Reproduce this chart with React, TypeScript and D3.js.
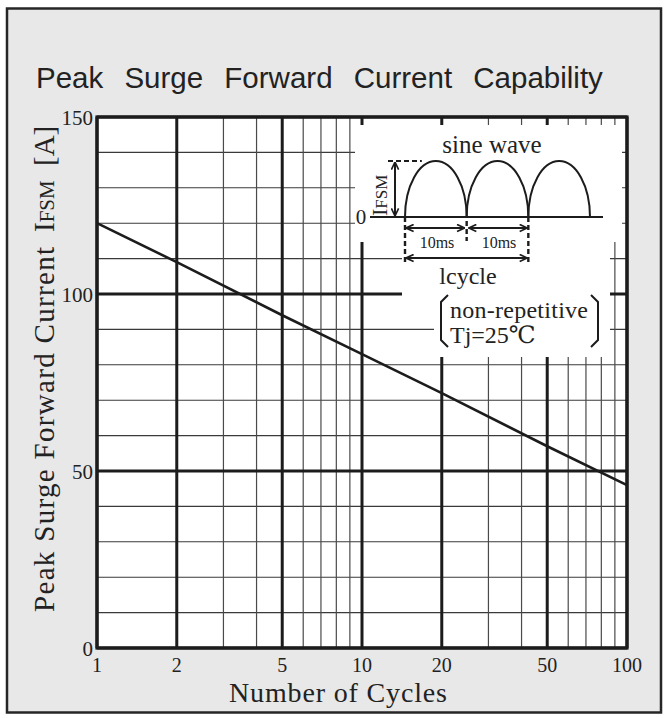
import React from "react";
import * as d3 from "d3";

// ---- data ----
const cycles = [1, 2, 5, 10, 20, 50, 100];
const surgeCurrent = [120, 109, 94, 83, 72, 57, 46];
const xMajorTicks = [1, 2, 5, 10, 20, 50, 100];
const xMinorTicks = [3, 4, 6, 7, 8, 9, 30, 40, 60, 70, 80, 90];
const xTickLabels = ["1", "2", "5", "10", "20", "50", "100"];
const yMajorTicks = [0, 50, 100, 150];
const yMinorTicks = [10, 20, 30, 40, 60, 70, 80, 90, 110, 120, 130, 140];
const yTickLabels = ["0", "50", "100", "150"];
const title = "Peak Surge Forward Current Capability";
const xTitle = "Number of Cycles";
const yTitleMain = "Peak Surge Forward Current";
const halfCycles = [0, 1, 2];

const W = 668;
const H = 718;
const SERIF = "'Liberation Serif', 'DejaVu Serif', 'Noto Sans CJK JP', serif";
const SANS = "'Liberation Sans', Arial, sans-serif";
const INK = "#1c1c1c";

export default function App() {
  const x = d3.scaleLog().domain([1, 100]).range([97, 627]);
  const y = d3.scaleLinear().domain([0, 150]).range([648, 117]);
  const line = d3
    .line<number>()
    .x((_, i) => x(cycles[i]))
    .y((d) => y(d));

  // inset schematic scales (time in ms, normalised amplitude)
  const t = d3.scaleLinear().domain([0, 30]).range([405, 590]);
  const a = d3.scaleLinear().domain([0, 1]).range([217, 161]);
  const halfW = (t(10) - t(0)) / 2;
  const amp = a(0) - a(1);

  const insetPoly = [
    [355, 125], [622, 125], [622, 242], [610, 242], [610, 357],
    [434, 357], [434, 312], [402, 312], [402, 242], [355, 242],
  ];

  return (
    <svg
      width={W}
      height={H}
      style={{ position: "absolute", left: 0, top: 0 }}
      xmlns="http://www.w3.org/2000/svg"
    >
      <defs>
        <marker id="ah" viewBox="0 0 10 10" refX="9.5" refY="5" markerWidth="9" markerHeight="9" orient="auto-start-reverse" markerUnits="userSpaceOnUse">
          <path d="M1,1 L9.5,5 L1,9" fill="none" stroke={INK} strokeWidth={1.8} />
        </marker>
      </defs>
      <rect x={0} y={0} width={W} height={H} fill="#fff" />
      <rect x={7} y={8.5} width={654} height={704} fill="#e8e8e8" stroke="#262626" strokeWidth={2.5} />

      <text x={36} y={88} fontFamily={SANS} fontSize={29.5} wordSpacing={13} fill="#222">
        {title}
      </text>

      {/* plot area */}
      <rect x={x(1)} y={y(150)} width={x(100) - x(1)} height={y(0) - y(150)} fill="#fff" />

      {yMinorTicks.map((v) => (
        <line key={"hy" + v} x1={x(1)} x2={x(100)} y1={y(v)} y2={y(v)} stroke="#3a3a3a" strokeWidth={1.1} />
      ))}
      {xMinorTicks.map((v) => (
        <line key={"vx" + v} x1={x(v)} x2={x(v)} y1={y(0)} y2={y(150)} stroke="#4a4a4a" strokeWidth={1.2} />
      ))}
      {xMajorTicks.map((v) => (
        <line key={"Vx" + v} x1={x(v)} x2={x(v)} y1={y(0)} y2={y(150)} stroke={INK} strokeWidth={3} />
      ))}
      {yMajorTicks.map((v) => (
        <line key={"Hy" + v} x1={x(1)} x2={x(100)} y1={y(v)} y2={y(v)} stroke={INK} strokeWidth={3} />
      ))}

      {/* white inset region */}
      <polygon points={insetPoly.map((p) => p.join(",")).join(" ")} fill="#fff" />

      <path d={line(surgeCurrent) || ""} fill="none" stroke={INK} strokeWidth={2.6} />

      <rect x={x(1)} y={y(150)} width={x(100) - x(1)} height={y(0) - y(150)} fill="none" stroke={INK} strokeWidth={3.2} />

      {/* tick labels */}
      {yMajorTicks.map((v, i) => (
        <text key={"yl" + v} x={93} y={y(v) + 8} textAnchor="end" fontFamily={SERIF} fontSize={21} fill="#222">
          {yTickLabels[i]}
        </text>
      ))}
      {xMajorTicks.map((v, i) => (
        <text key={"xl" + v} x={x(v)} y={672} textAnchor="middle" fontFamily={SERIF} fontSize={20} fill="#222">
          {xTickLabels[i]}
        </text>
      ))}

      {/* axis titles */}
      <text x={338} y={702} textAnchor="middle" fontFamily={SERIF} fontSize={28} fill="#222" textLength={218} lengthAdjust="spacing">
        {xTitle}
      </text>
      <g transform="translate(54,0) rotate(-90)" fontFamily={SERIF} fill="#222">
        <text x={-612} y={0} fontSize={29} textLength={365} lengthAdjust="spacing">
          {yTitleMain}
        </text>
        <text x={-232} y={0} fontSize={29}>
          I<tspan fontSize={21}>FSM</tspan>
        </text>
        <text x={-166} y={0} fontSize={29}>
          [A]
        </text>
      </g>

      {/* inset: sine wave schematic */}
      <text x={492} y={153} textAnchor="middle" fontFamily={SERIF} fontSize={25} fill="#222">
        sine wave
      </text>
      {halfCycles.map((k) => (
        <path
          key={"arch" + k}
          d={`M${t(k * 10)},${a(0)} A${halfW},${amp} 0 0 1 ${t(k * 10 + 10)},${a(0)}`}
          fill="none"
          stroke={INK}
          strokeWidth={2}
        />
      ))}
      <line x1={370} x2={603} y1={a(0)} y2={a(0)} stroke={INK} strokeWidth={2} />
      <line x1={388} x2={t(0) + halfW - 14} y1={a(1)} y2={a(1)} stroke={INK} strokeWidth={2.2} strokeDasharray="5,3" />
      <line x1={395} x2={395} y1={a(1) + 1} y2={a(0) - 1} stroke={INK} strokeWidth={2} markerStart="url(#ah)" markerEnd="url(#ah)" />
      <text x={361} y={224} textAnchor="middle" fontFamily={SERIF} fontSize={21} fill="#222">0</text>
      <g transform="translate(387,216) rotate(-90)" fontFamily={SERIF} fill="#222">
        <text x={0} y={0} fontSize={22}>
          I<tspan fontSize={17}>FSM</tspan>
        </text>
      </g>

      <line x1={t(0)} x2={t(0)} y1={a(0)} y2={262} stroke={INK} strokeWidth={2.4} strokeDasharray="5,3" />
      <line x1={t(10)} x2={t(10)} y1={a(0) + 4} y2={241} stroke={INK} strokeWidth={2.4} strokeDasharray="5,3" />
      <line x1={t(20)} x2={t(20)} y1={a(0)} y2={262} stroke={INK} strokeWidth={2.4} strokeDasharray="5,3" />

      <line x1={t(0) + 1} x2={t(10) - 2} y1={228} y2={228} stroke={INK} strokeWidth={2} markerStart="url(#ah)" markerEnd="url(#ah)" />
      <line x1={t(10) + 2} x2={t(20) - 1} y1={228} y2={228} stroke={INK} strokeWidth={2} markerStart="url(#ah)" markerEnd="url(#ah)" />
      <text x={437} y={248} textAnchor="middle" fontFamily={SERIF} fontSize={16} fill="#222">10ms</text>
      <text x={499} y={248} textAnchor="middle" fontFamily={SERIF} fontSize={16} fill="#222">10ms</text>

      <line x1={t(0) + 1} x2={t(20) - 1} y1={258} y2={258} stroke={INK} strokeWidth={2} markerStart="url(#ah)" markerEnd="url(#ah)" />
      <text x={468} y={284} textAnchor="middle" fontFamily={SERIF} fontSize={24} fill="#222">lcycle</text>

      <path d="M448,295 L441,302 L441,340 L448,347" fill="none" stroke={INK} strokeWidth={2} />
      <path d="M591,295 L598,302 L598,340 L591,347" fill="none" stroke={INK} strokeWidth={2} />
      <text x={450} y={318} fontFamily={SERIF} fontSize={24} fill="#222" textLength={138} lengthAdjust="spacing">non-repetitive</text>
      <text x={450} y={343} fontFamily={SERIF} fontSize={24} fill="#222">Tj=25℃</text>
    </svg>
  );
}
